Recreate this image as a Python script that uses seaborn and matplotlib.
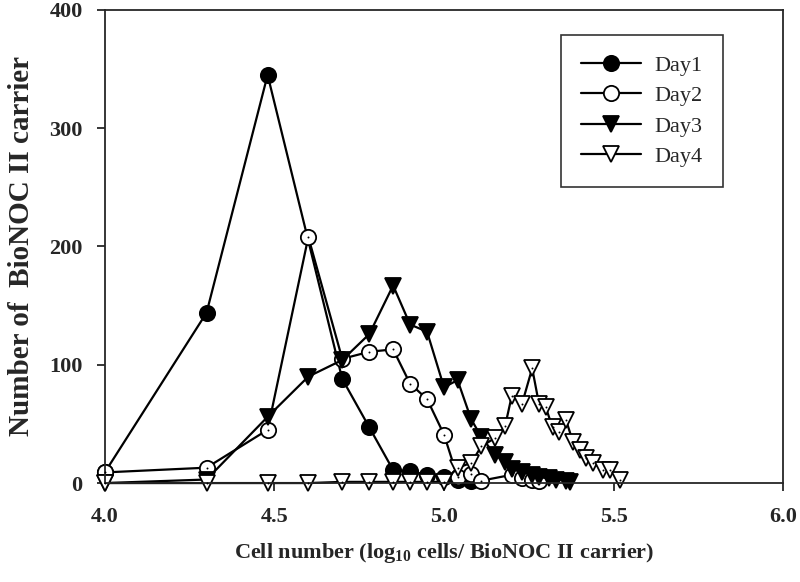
import matplotlib
matplotlib.use("Agg")
import matplotlib.pyplot as plt
import seaborn as sns

# values (log10 cells per carrier vs. number of carriers)
day1_x = [4.00, 4.30, 4.48, 4.70, 4.78, 4.85, 4.90, 4.95, 5.00, 5.04, 5.08]
day1_y = [9, 144, 345, 88, 47, 11, 10, 7, 5, 3, 2]

day2_x = [4.00, 4.30, 4.48, 4.60, 4.70, 4.78, 4.85, 4.90, 4.95, 5.00, 5.04,
          5.08, 5.11, 5.20, 5.23, 5.26, 5.28]
day2_y = [9, 13, 45, 208, 105, 111, 113, 84, 71, 41, 5, 8, 2, 7, 4, 3, 2]

day3_x = [4.00, 4.30, 4.48, 4.60, 4.70, 4.78, 4.85, 4.90, 4.95, 5.00, 5.04,
          5.08, 5.11, 5.15, 5.18, 5.20, 5.23, 5.26, 5.28, 5.31, 5.33, 5.36, 5.37]
day3_y = [0, 3, 56, 90, 104, 126, 167, 134, 128, 81, 87, 54, 39, 24, 18, 12,
          9, 7, 5, 4, 3, 2, 1]

day4_x = [4.00, 4.30, 4.48, 4.60, 4.70, 4.78, 4.85, 4.90, 4.95, 5.00, 5.04,
          5.08, 5.11, 5.15, 5.18, 5.20, 5.23, 5.26, 5.28, 5.30, 5.32, 5.34,
          5.36, 5.38, 5.40, 5.42, 5.44, 5.47, 5.49, 5.52]
day4_y = [0, 0, 0, 0, 1, 1, 1, 1, 1, 1, 13, 17, 31, 38, 48, 74, 67, 97, 67,
          64, 47, 43, 53, 35, 28, 21, 17, 11, 11, 3]

x_ticks = [4.0, 4.5, 5.0, 5.5, 6.0]
y_ticks = [0, 100, 200, 300, 400]

sns.set_style("ticks")
plt.rcParams['font.family'] = ['Liberation Serif', 'DejaVu Serif']
plt.rcParams['mathtext.fontset'] = 'custom'
plt.rcParams['mathtext.bf'] = 'Liberation Serif:bold'
plt.rcParams['mathtext.rm'] = 'Liberation Serif:bold'

fig = plt.figure(figsize=(8, 5.82), dpi=100)
ax = fig.add_axes([0.131, 0.170, 0.848, 0.813])

series = [
    ("Day1", day1_x, day1_y, "o", "black"),
    ("Day2", day2_x, day2_y, "o", "white"),
    ("Day3", day3_x, day3_y, "v", "black"),
    ("Day4", day4_x, day4_y, "v", "white"),
]

for name, xs, ys, mk, face in series:
    sns.lineplot(x=xs, y=ys, ax=ax, label=name, color="black", linewidth=1.6,
                 marker=mk, markersize=11, markerfacecolor=face,
                 markeredgecolor="black", markeredgewidth=1.3, clip_on=False)
    if face == "white":
        # little centre dot of the open symbols
        sns.scatterplot(x=xs, y=ys, ax=ax, color="black", s=2, linewidth=0,
                        clip_on=False, zorder=5, legend=False)

ax.set_xlim(4.0, 6.0)
ax.set_ylim(0, 400)
ax.set_xticks(x_ticks)
ax.set_xticklabels([f"{v:.1f}" for v in x_ticks])
ax.set_yticks(y_ticks)
ax.tick_params(axis="both", direction="out", length=6, width=1.3,
               labelsize=16)
ax.tick_params(axis="x", pad=11)
ax.tick_params(axis="y", pad=10)
for lab in ax.get_xticklabels() + ax.get_yticklabels():
    lab.set_fontweight("bold")
for sp in ax.spines.values():
    sp.set_linewidth(1.3)
    sp.set_visible(True)

ax.set_xlabel(r"Cell number (log$_{\mathbf{10}}$ cells/ BioNOC II carrier)",
              fontsize=16, fontweight="bold", labelpad=10)
ax.set_ylabel("Number of  BioNOC II carrier", fontsize=21,
              fontweight="bold", labelpad=10)

leg = ax.legend(loc="upper left", bbox_to_anchor=(0.673, 0.947),
                borderaxespad=0, fontsize=16, frameon=True, fancybox=False,
                handlelength=2.7, labelspacing=0.45, borderpad=0.9,
                handletextpad=0.6)
leg.get_frame().set_edgecolor("black")
leg.get_frame().set_linewidth(1.2)

fig.savefig("out.png", dpi=100)
